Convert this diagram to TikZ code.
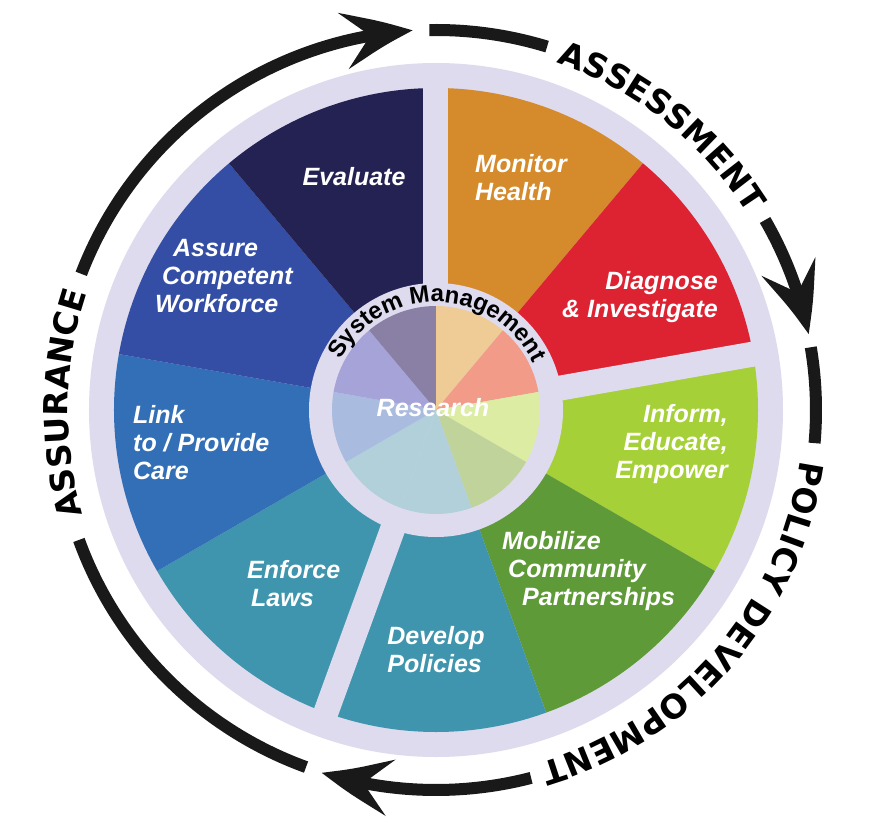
\documentclass[tikz,border=0pt]{standalone}
\usepackage{fontspec}
\usetikzlibrary{arrows.meta,bending,decorations.text}

\newfontfamily\wheelfont{Liberation Sans}
\newfontfamily\ringfont{DejaVu Sans}

\definecolor{lilac}{HTML}{DFDBEE}
\definecolor{monitorc}{HTML}{D58B2B}
\definecolor{diagnosec}{HTML}{DD2232}
\definecolor{informc}{HTML}{A6D038}
\definecolor{mobilizec}{HTML}{5E9A37}
\definecolor{developc}{HTML}{3F95AD}
\definecolor{linkc}{HTML}{336FB6}
\definecolor{assurec}{HTML}{344EA5}
\definecolor{evaluatec}{HTML}{232252}
\definecolor{monitorp}{HTML}{EFCC95}
\definecolor{diagnosep}{HTML}{F19B88}
\definecolor{informp}{HTML}{DCECA2}
\definecolor{mobilizep}{HTML}{C0D39B}
\definecolor{developp}{HTML}{B1D0DA}
\definecolor{linkp}{HTML}{A9BBDE}
\definecolor{assurep}{HTML}{A5A3D8}
\definecolor{evaluatep}{HTML}{8A80A6}

\begin{document}
\begin{tikzpicture}[%
    x=1pt, y=1pt,
    >={Stealth[length=70pt, width=56pt, inset=27pt, bend]},
    cycle/.style={draw=black!90, line width=12pt},
    spoke/.style={draw=lilac, line width=25pt},
    service/.style={text=white, inner sep=0pt,
      font=\wheelfont\bfseries\itshape\fontsize{25}{28}\selectfont},
    phasetext/.style={decorate, decoration={text along path, text align=center,
      text={|\ringfont\bfseries\fontsize{33}{33}\selectfont|#1}}},
    coretext/.style={decorate, decoration={text along path, text align=center,
      text={|\wheelfont\bfseries\fontsize{24}{24}\selectfont|#1}}}
  ]
    \useasboundingbox (-436,-426) rectangle (445,410);
    \fill[white] (-436,-426) rectangle (445,410);

    % wheel
    \fill[lilac] (0,0) circle[radius=347pt];
    \foreach \a/\c in {90/monitorc, 50/diagnosec, 10/informc, -30/mobilizec,
                       -70/developc, -110/developc, -150/linkc, -190/assurec, -230/evaluatec}
      \fill[\c] (0,0) -- (\a:322pt) arc[start angle=\a, delta angle=-40, radius=322pt] -- cycle;
    \foreach \a in {90,10,250}
      \draw[spoke] (0,0) -- (\a:335pt);
    \fill[lilac] (0,0) circle[radius=127pt];
    \foreach \a/\c in {90/monitorp, 50/diagnosep, 10/informp, -30/mobilizep,
                       -70/developp, -110/developp, -150/linkp, -190/assurep, -230/evaluatep}
      \fill[\c] (0,0) -- (\a:104pt) arc[start angle=\a, delta angle=-40, radius=104pt] -- cycle;

    % cycle arrows
    \draw[cycle, ->] (159:380pt) arc[start angle=159, end angle=93.5, radius=380pt];
    \draw[cycle]     (91:380pt) arc[start angle=91, end angle=73, radius=380pt];
    \draw[cycle, ->] (30:380pt) arc[start angle=30, end angle=11.5, radius=380pt];
    \draw[cycle]     (9.5:380pt) arc[start angle=9.5, end angle=-5, radius=380pt];
    \draw[cycle, ->] (-75.5:380pt) arc[start angle=-75.5, end angle=-107.5, radius=380pt];
    \draw[cycle]     (-110:380pt) arc[start angle=-110, end angle=-160, radius=380pt];

    \path[phasetext=ASSESSMENT] (72:368pt) arc[start angle=72, end angle=31, radius=368pt];
    \path[phasetext=POLICY DEVELOPMENT] (-6:368pt) arc[start angle=-6, end angle=-75.5, radius=368pt];
    \path[phasetext=ASSURANCE] (199:368pt) arc[start angle=199, end angle=159, radius=368pt];
    \path[coretext=System Management] (160:108pt) arc[start angle=160, end angle=18, radius=108pt];

    % services
    \node[service, anchor=west, align=left] (monitor) at (39,232) {Monitor\\Health};
    \node[service, anchor=east, align=right] (diagnose) at (282,113) {Diagnose\\\& Investigate};
    \node[service, anchor=east, align=right] (inform) at (292,-34) {Inform,\\Educate,\\Empower};
    \node[service, anchor=west, align=left] (mobilize) at (66,-161)
      {Mobilize\\\hspace*{6pt}Community\\\hspace*{20pt}Partnerships};
    \node[service, align=left] (develop) at (0,-240) {Develop\\Policies};
    \node[service, anchor=west, align=left] (enforce) at (-189,-174) {Enforce\\\hspace*{4pt}Laws};
    \node[service, anchor=west, align=left] (link) at (-303,-33) {Link\\to / Provide\\Care};
    \node[service, anchor=west, align=left] (assure) at (-281,134)
      {\hspace*{18pt}Assure\\\hspace*{7pt}Competent\\Workforce};
    \node[service] (evaluate) at (-82,233) {Evaluate};
    \node[service] (research) at (-3,2) {Research};
\end{tikzpicture}
\end{document}
